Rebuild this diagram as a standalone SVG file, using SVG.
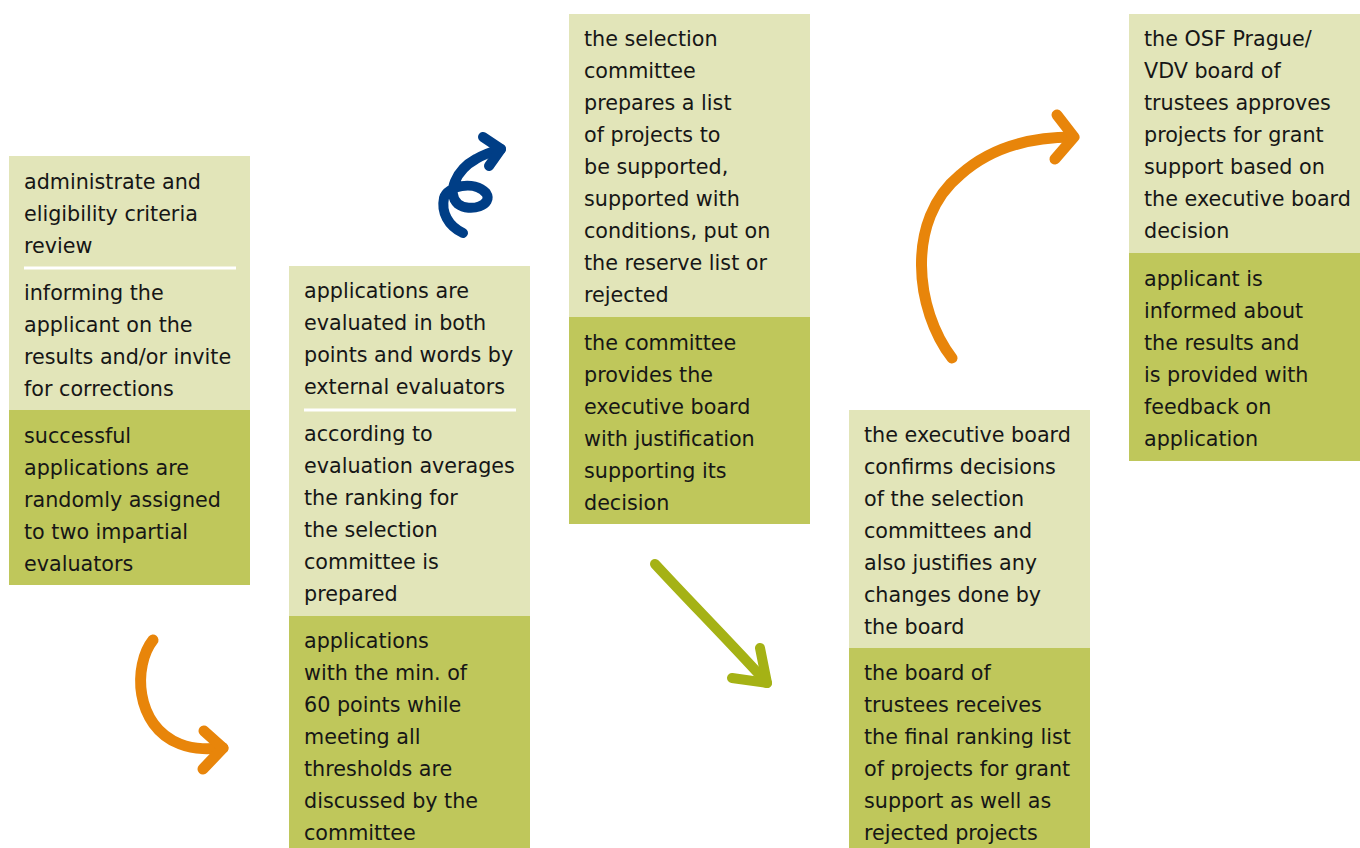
<svg xmlns="http://www.w3.org/2000/svg" width="1360" height="848" viewBox="0 0 1360 848">
  <style>
    .light { fill: #e2e5b9; }
    .dark { fill: #bfc75b; }
    .sep { stroke: #ffffff; stroke-width: 3; }
    text { font-family: "DejaVu Sans", "Liberation Sans", sans-serif; font-size: 20.7px; fill: #161616; }
    .arrow { fill: none; stroke-linecap: round; stroke-linejoin: round; }
    .orange { stroke: #e8850a; stroke-width: 11; }
    .blue { stroke: #003e86; stroke-width: 10; }
    .olive { stroke: #a5b215; stroke-width: 10; }
  </style>
  <rect width="1360" height="848" fill="#ffffff"/>

  <!-- step 1: eligibility review -->
  <g id="step1">
    <rect class="light" x="9" y="156" width="241" height="254"/>
    <rect class="dark" x="9" y="410" width="241" height="175"/>
    <line class="sep" x1="24" y1="268" x2="236" y2="268"/>
    <text x="24" y="189">administrate and</text>
    <text x="24" y="221">eligibility criteria</text>
    <text x="24" y="253">review</text>
    <text x="24" y="300">informing the</text>
    <text x="24" y="332">applicant on the</text>
    <text x="24" y="364">results and/or invite</text>
    <text x="24" y="396">for corrections</text>
    <text x="24" y="443">successful</text>
    <text x="24" y="475">applications are</text>
    <text x="24" y="507">randomly assigned</text>
    <text x="24" y="539">to two impartial</text>
    <text x="24" y="571">evaluators</text>
  </g>

  <!-- step 2: external evaluation -->
  <g id="step2">
    <rect class="light" x="289" y="266" width="241" height="350"/>
    <rect class="dark" x="289" y="616" width="241" height="232"/>
    <line class="sep" x1="304" y1="410" x2="516" y2="410"/>
    <text x="304" y="298">applications are</text>
    <text x="304" y="330">evaluated in both</text>
    <text x="304" y="362">points and words by</text>
    <text x="304" y="394">external evaluators</text>
    <text x="304" y="441">according to</text>
    <text x="304" y="473">evaluation averages</text>
    <text x="304" y="505">the ranking for</text>
    <text x="304" y="537">the selection</text>
    <text x="304" y="569">committee is</text>
    <text x="304" y="601">prepared</text>
    <text x="304" y="648">applications</text>
    <text x="304" y="680">with the min. of</text>
    <text x="304" y="712">60 points while</text>
    <text x="304" y="744">meeting all</text>
    <text x="304" y="776">thresholds are</text>
    <text x="304" y="808">discussed by the</text>
    <text x="304" y="840">committee</text>
  </g>

  <!-- step 3: selection committee -->
  <g id="step3">
    <rect class="light" x="569" y="14" width="241" height="303"/>
    <rect class="dark" x="569" y="317" width="241" height="207"/>
    <text x="584" y="46">the selection</text>
    <text x="584" y="78">committee</text>
    <text x="584" y="110">prepares a list</text>
    <text x="584" y="142">of projects to</text>
    <text x="584" y="174">be supported,</text>
    <text x="584" y="206">supported with</text>
    <text x="584" y="238">conditions, put on</text>
    <text x="584" y="270">the reserve list or</text>
    <text x="584" y="302">rejected</text>
    <text x="584" y="350">the committee</text>
    <text x="584" y="382">provides the</text>
    <text x="584" y="414">executive board</text>
    <text x="584" y="446">with justification</text>
    <text x="584" y="478">supporting its</text>
    <text x="584" y="510">decision</text>
  </g>

  <!-- step 4: executive board -->
  <g id="step4">
    <rect class="light" x="849" y="410" width="241" height="238"/>
    <rect class="dark" x="849" y="648" width="241" height="200"/>
    <text x="864" y="442">the executive board</text>
    <text x="864" y="474">confirms decisions</text>
    <text x="864" y="506">of the selection</text>
    <text x="864" y="538">committees and</text>
    <text x="864" y="570">also justifies any</text>
    <text x="864" y="602">changes done by</text>
    <text x="864" y="634">the board</text>
    <text x="864" y="680">the board of</text>
    <text x="864" y="712">trustees receives</text>
    <text x="864" y="744">the final ranking list</text>
    <text x="864" y="776">of projects for grant</text>
    <text x="864" y="808">support as well as</text>
    <text x="864" y="840">rejected projects</text>
  </g>

  <!-- step 5: board of trustees -->
  <g id="step5">
    <rect class="light" x="1129" y="14" width="241" height="239"/>
    <rect class="dark" x="1129" y="253" width="241" height="208"/>
    <text x="1144" y="46">the OSF Prague/</text>
    <text x="1144" y="78">VDV board of</text>
    <text x="1144" y="110">trustees approves</text>
    <text x="1144" y="142">projects for grant</text>
    <text x="1144" y="174">support based on</text>
    <text x="1144" y="206">the executive board</text>
    <text x="1144" y="238">decision</text>
    <text x="1144" y="286">applicant is</text>
    <text x="1144" y="318">informed about</text>
    <text x="1144" y="350">the results and</text>
    <text x="1144" y="382">is provided with</text>
    <text x="1144" y="414">feedback on</text>
    <text x="1144" y="446">application</text>
  </g>

  <!-- hand-drawn connectors -->
  <g id="connectors">
    <path class="arrow orange" d="M153,640 C133,665 134,726 180,744 C196,750 210,749 223,748"/>
    <polyline class="arrow orange" points="204,731 223,748 203,769"/>

    <path class="arrow blue" d="M463,233 C448,226 441,212 444,198 C447,186 474,180 486,193 C494,205 470,213 458,204 C446,193 456,170 476,159 C486,153 494,151 501,149"/>
    <polyline class="arrow blue" points="483,137 501,149 489,166"/>

    <path class="arrow olive" d="M655,564 C690,602 730,642 767,683"/>
    <polyline class="arrow olive" points="760,648 767,683 732,678"/>

    <path class="arrow orange" d="M952,358 C915,310 905,220 960,175 C990,148 1030,137 1073,137"/>
    <polyline class="arrow orange" points="1057,115 1074,137 1055,159"/>
  </g>
</svg>
